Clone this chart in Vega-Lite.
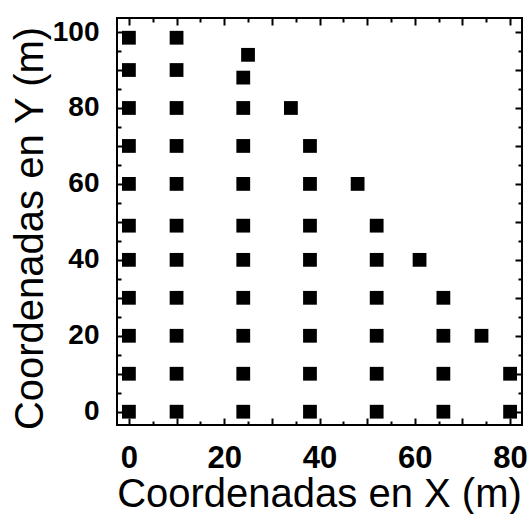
{
  "$schema": "https://vega.github.io/schema/vega-lite/v6.json",
  "width": 405,
  "height": 407,
  "autosize": "none",
  "padding": {"left": 117, "top": 18, "right": 8, "bottom": 89},
  "background": "white",
  "config": {
    "view": {"stroke": "black", "strokeWidth": 2},
    "axis": {
      "grid": false,
      "domain": false,
      "tickColor": "black",
      "tickWidth": 2,
      "labelFont": "Liberation Sans",
      "titleFont": "Liberation Sans",
      "labelColor": "black",
      "titleColor": "black"
    }
  },
  "datasets": {
    "pts": [
      {"x": 0, "y": 98.5}, {"x": 0, "y": 90}, {"x": 0, "y": 80}, {"x": 0, "y": 70}, {"x": 0, "y": 60}, {"x": 0, "y": 49}, {"x": 0, "y": 40}, {"x": 0, "y": 30}, {"x": 0, "y": 20}, {"x": 0, "y": 10}, {"x": 0, "y": 0},
      {"x": 10, "y": 98.5}, {"x": 10, "y": 90}, {"x": 10, "y": 80}, {"x": 10, "y": 70}, {"x": 10, "y": 60}, {"x": 10, "y": 49}, {"x": 10, "y": 40}, {"x": 10, "y": 30}, {"x": 10, "y": 20}, {"x": 10, "y": 10}, {"x": 10, "y": 0},
      {"x": 24, "y": 88}, {"x": 24, "y": 80}, {"x": 24, "y": 70}, {"x": 24, "y": 60}, {"x": 24, "y": 49}, {"x": 24, "y": 40}, {"x": 24, "y": 30}, {"x": 24, "y": 20}, {"x": 24, "y": 10}, {"x": 24, "y": 0},
      {"x": 25, "y": 94},
      {"x": 34, "y": 80},
      {"x": 38, "y": 70}, {"x": 38, "y": 60}, {"x": 38, "y": 49}, {"x": 38, "y": 40}, {"x": 38, "y": 30}, {"x": 38, "y": 20}, {"x": 38, "y": 10}, {"x": 38, "y": 0},
      {"x": 48, "y": 60},
      {"x": 52, "y": 49}, {"x": 52, "y": 40}, {"x": 52, "y": 30}, {"x": 52, "y": 20}, {"x": 52, "y": 10}, {"x": 52, "y": 0},
      {"x": 61, "y": 40},
      {"x": 66, "y": 30}, {"x": 66, "y": 20}, {"x": 66, "y": 10}, {"x": 66, "y": 0},
      {"x": 74, "y": 20},
      {"x": 80, "y": 10}, {"x": 80, "y": 0}
    ]
  },
  "data": {"name": "pts"},
  "layer": [
    {
      "mark": {"type": "point", "shape": "square", "filled": true, "color": "black", "size": 190, "opacity": 1, "strokeWidth": 0},
      "encoding": {
        "x": {
          "field": "x", "type": "quantitative",
          "scale": {"domain": [-2.5, 82.5], "nice": false, "zero": false},
          "axis": {
            "orient": "bottom",
            "values": [0, 20, 40, 60, 80],
            "ticks": false,
            "labelOverlap": false,
            "labelFlush": false,
            "labelFontSize": 31,
            "labelFontWeight": "bold",
            "labelBaseline": "alphabetic",
            "labelPadding": 42,
            "title": "Coordenadas en X (m)",
            "titleFontSize": 40,
            "titleFontWeight": "normal",
            "titleBaseline": "alphabetic",
            "titleAlign": "center",
            "titleX": 202,
            "titleY": 81
          }
        },
        "y": {
          "field": "y", "type": "quantitative",
          "scale": {"domain": [-3.5, 103.7], "nice": false, "zero": false},
          "axis": {
            "orient": "left",
            "values": [0, 20, 40, 60, 80, 100],
            "ticks": false,
            "labelOverlap": false,
            "labelFlush": false,
            "labelFontSize": 28,
            "labelFontWeight": "bold",
            "labelAlign": "right",
            "labelBaseline": "middle",
            "labelPadding": 18,
            "title": "Coordenadas en Y (m)",
            "titleFontSize": 40,
            "titleFontWeight": "normal",
            "titleBaseline": "alphabetic",
            "titleAlign": "center",
            "titleAngle": -90,
            "titleX": -75,
            "titleY": 210
          }
        }
      }
    },
    {
      "mark": {"type": "point", "opacity": 0},
      "encoding": {
        "x": {"field": "x", "type": "quantitative", "axis": {"orient": "bottom", "offset": -7, "tickSize": 7, "values": [0, 10, 20, 30, 40, 50, 60, 70, 80], "labels": false, "title": null}},
        "y": {"field": "y", "type": "quantitative", "axis": {"orient": "left", "offset": -7, "tickSize": 7, "values": [0, 10, 20, 30, 40, 50, 60, 70, 80, 90, 100], "labels": false, "title": null}}
      }
    },
    {
      "mark": {"type": "point", "opacity": 0},
      "encoding": {
        "x": {"field": "x", "type": "quantitative", "axis": {"orient": "bottom", "offset": -4, "tickSize": 4, "values": [5, 15, 25, 35, 45, 55, 65, 75], "labels": false, "title": null}},
        "y": {"field": "y", "type": "quantitative", "axis": {"orient": "left", "offset": -4, "tickSize": 4, "values": [5, 15, 25, 35, 45, 55, 65, 75, 85, 95], "labels": false, "title": null}}
      }
    },
    {
      "mark": {"type": "point", "opacity": 0},
      "encoding": {
        "x": {"field": "x", "type": "quantitative", "axis": {"orient": "top", "offset": -7, "tickSize": 7, "values": [0, 10, 20, 30, 40, 50, 60, 70, 80], "labels": false, "title": null}},
        "y": {"field": "y", "type": "quantitative", "axis": {"orient": "right", "offset": -7, "tickSize": 7, "values": [0, 10, 20, 30, 40, 50, 60, 70, 80, 90, 100], "labels": false, "title": null}}
      }
    },
    {
      "mark": {"type": "point", "opacity": 0},
      "encoding": {
        "x": {"field": "x", "type": "quantitative", "axis": {"orient": "top", "offset": -4, "tickSize": 4, "values": [5, 15, 25, 35, 45, 55, 65, 75], "labels": false, "title": null}},
        "y": {"field": "y", "type": "quantitative", "axis": {"orient": "right", "offset": -4, "tickSize": 4, "values": [5, 15, 25, 35, 45, 55, 65, 75, 85, 95], "labels": false, "title": null}}
      }
    }
  ],
  "resolve": {"axis": {"x": "independent", "y": "independent"}}
}
